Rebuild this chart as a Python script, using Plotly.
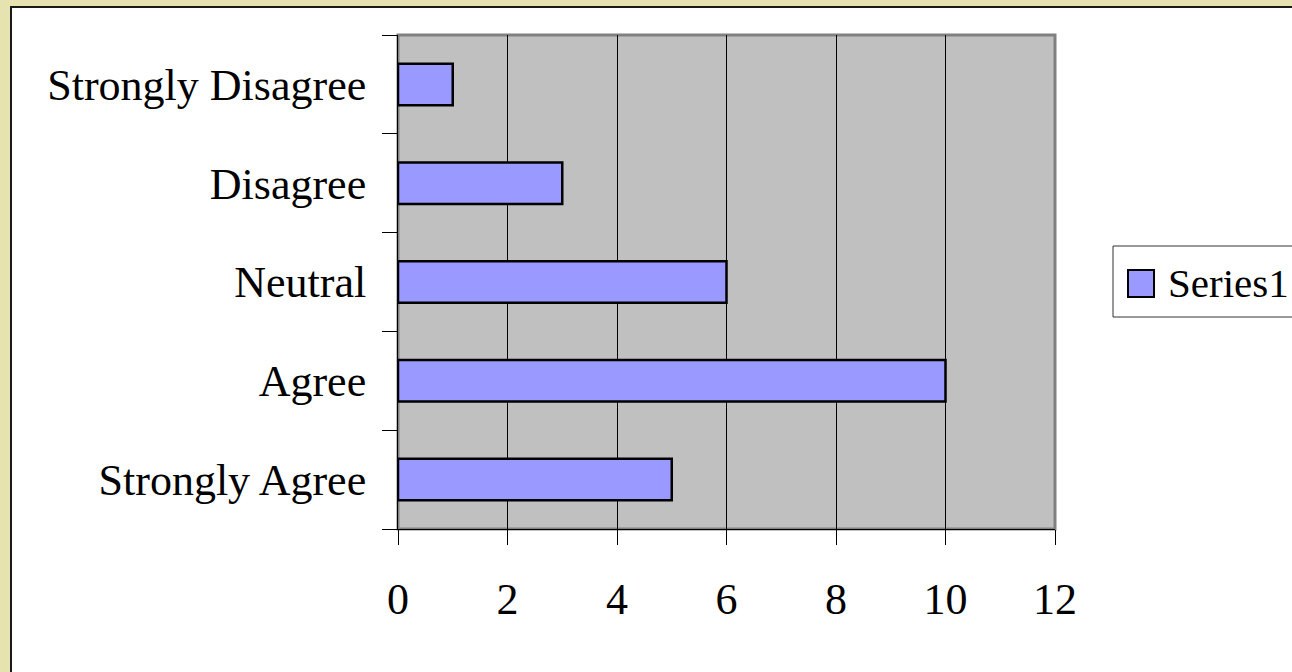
import plotly.graph_objects as go

categories = ["Strongly Agree", "Agree", "Neutral", "Disagree", "Strongly Disagree"]
values = [5, 10, 6, 3, 1]
series_name = "Series1"
x_ticks = [0, 2, 4, 6, 8, 10, 12]

W, H = 1292, 672
ML, MR, MT, MB = 398, 237, 35, 143
PW, PH = W - ML - MR, H - MT - MB

def px_x(px):
    return (px - ML) / PW

def px_y(py):
    return (H - MB - py) / PH

FONT = "Liberation Serif, Times New Roman, serif"
BAR_COLOR = "#9999FF"
PLOT_BG = "#C0C0C0"

fig = go.Figure()
fig.add_trace(go.Bar(
    x=values, y=categories, orientation="h", name=series_name,
    width=0.42, marker=dict(color=BAR_COLOR, line=dict(color="black", width=2.5)),
    showlegend=False,
))

shapes = [
    # white chart area with dark border (outer frame)
    dict(type="rect", xref="paper", yref="paper", layer="below",
         x0=px_x(11), x1=px_x(1310), y0=px_y(7), y1=px_y(690),
         fillcolor="white", line=dict(color="#1a1a1a", width=2)),
    # plot area fill and border
    dict(type="rect", xref="x domain", yref="y domain", layer="below",
         x0=0, x1=1, y0=0, y1=1, fillcolor=PLOT_BG,
         line=dict(color="#808080", width=3)),
    # legend box
    dict(type="rect", xref="paper", yref="paper", layer="above",
         x0=px_x(1113), x1=px_x(1320), y0=px_y(317), y1=px_y(246),
         fillcolor="white", line=dict(color="#333333", width=1)),
    # legend swatch
    dict(type="rect", xref="paper", yref="paper", layer="above",
         x0=px_x(1128), x1=px_x(1154), y0=px_y(297), y1=px_y(270),
         fillcolor=BAR_COLOR, line=dict(color="black", width=2)),
]

annotations = [
    dict(text=series_name, xref="paper", yref="paper", x=px_x(1166), y=px_y(283),
         xanchor="left", yanchor="middle", showarrow=False,
         font=dict(family=FONT, size=41, color="black")),
]

fig.update_layout(
    width=W, height=H,
    margin=dict(l=ML, r=MR, t=MT, b=MB, autoexpand=False),
    paper_bgcolor="#E6E3B1",
    plot_bgcolor=PLOT_BG,
    font=dict(family=FONT, size=44, color="black"),
    shapes=shapes, annotations=annotations,
    showlegend=False,
    xaxis=dict(
        range=[0, 12], tickvals=x_ticks, ticktext=[str(v) for v in x_ticks],
        showgrid=True, gridcolor="black", gridwidth=1,
        showline=True, linecolor="black", linewidth=1,
        ticks="outside", ticklen=15, tickcolor="black", tickwidth=1,
        zeroline=False, ticklabelstandoff=16,
    ),
    yaxis=dict(
        type="category", categoryorder="array", categoryarray=categories,
        range=[-0.5, 4.5], tickson="boundaries",
        showgrid=False, showline=True, linecolor="black", linewidth=1,
        ticks="outside", ticklen=15, tickcolor="black", tickwidth=1,
        ticklabelstandoff=22,
    ),
)

fig.write_html("out.html")
